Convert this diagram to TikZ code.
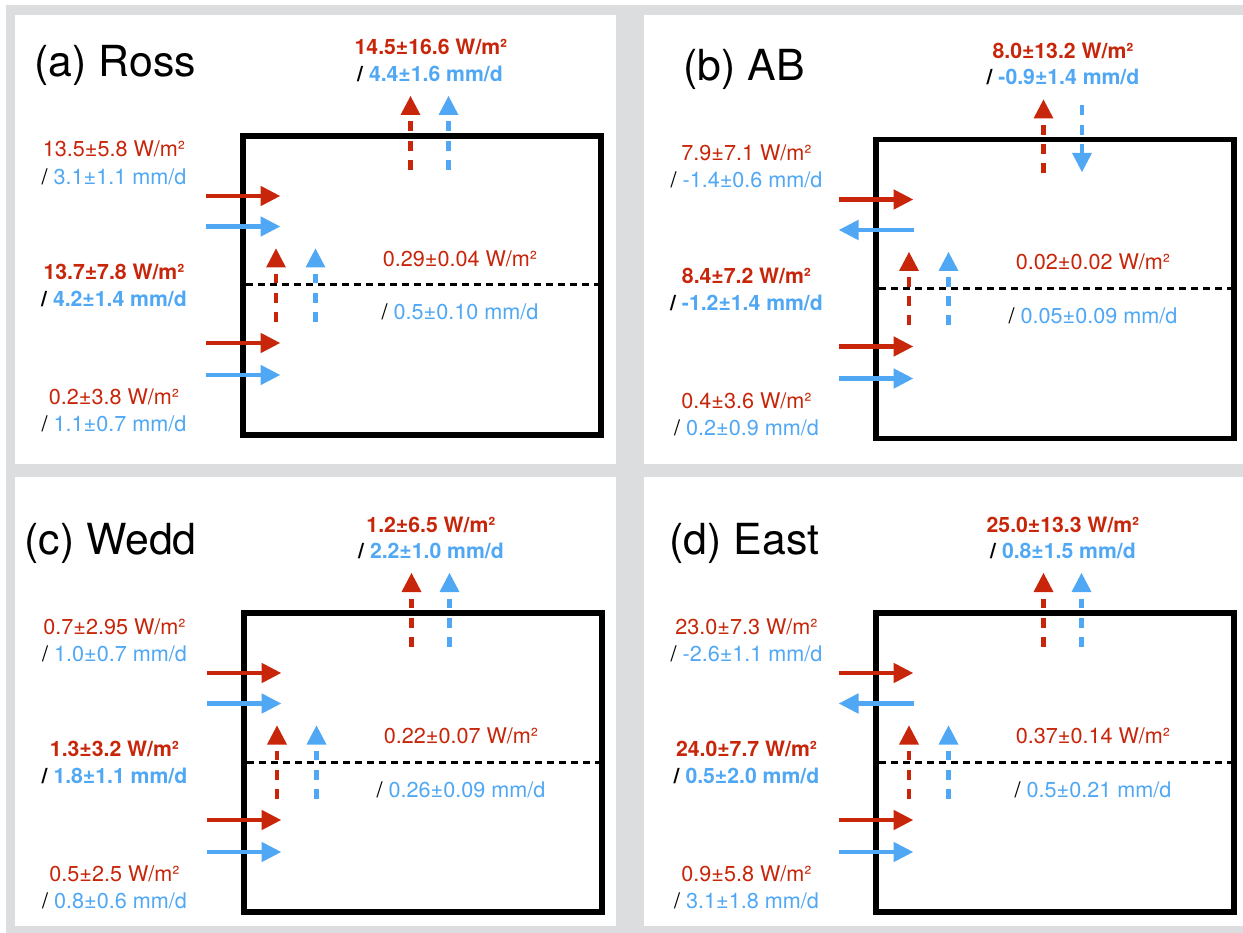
\documentclass[tikz,border=0pt]{standalone}
\usepackage{fontspec}
\setmainfont{TeX Gyre Heros}
\usetikzlibrary{arrows.meta}
\definecolor{fred}{RGB}{200,38,10}
\definecolor{fblue}{RGB}{80,168,245}
\definecolor{frame}{RGB}{220,221,223}
\tikzset{
  box/.style={draw=black, line width=5.5pt},
  layerline/.style={draw=black, line width=3pt, dash pattern=on 7pt off 5pt},
  harrow/.style={line width=4.8pt, -{Triangle[length=20pt,width=19pt]}},
  vshaft/.style={line width=4.8pt, dash pattern=on 10pt off 9.4pt},
  lbl/.style={font=\fontsize{21.6}{27}\selectfont, inner sep=0pt, anchor=base},
  blbl/.style={font=\fontsize{21.2}{27}\selectfont\bfseries, inner sep=0pt, anchor=base},
  ttl/.style={font=\fontsize{42.8}{48}\selectfont, anchor=base west, inner sep=0pt},
}
% #1 colour, #2 x, #3 tip y, #4 bottom y
\newcommand\uparr[4]{%
  \fill[#1] (#2-10,#3+19) -- (#2+10,#3+19) -- (#2,#3) -- cycle;
  \draw[vshaft,#1] (#2,#4) -- (#2,#3+25.5);
}
% #1 colour, #2 x, #3 tail y, #4 tip y
\newcommand\downarr[4]{%
  \fill[#1] (#2-10,#4-19) -- (#2+10,#4-19) -- (#2,#4) -- cycle;
  \draw[vshaft,#1] (#2,#3) -- (#2,#4-19);
}
\newcommand\panelcore{%
  \draw[box] (0,0) rectangle (358,299);
  \draw[layerline] (3,149) -- (355,149);
  \draw[harrow, fred] (-37,60) -- (37.5,60);
  \draw[harrow, fred] (-37,207) -- (37.5,207);
  \draw[harrow, fblue] (-37,239) -- (37.5,239);
  \uparr{fred}{33}{112.5}{186}
  \uparr{fblue}{72.5}{112.5}{186}
  \uparr{fred}{167.5}{-40}{34}
}
\begin{document}
\begin{tikzpicture}[x=1pt,y=-1pt]
\useasboundingbox (0,0) rectangle (1243,933);
\fill[white] (0,0) rectangle (1243,933);
\fill[frame] (6,5) rectangle (1243,933);
\fill[white] (15,15) rectangle (616,464);
\fill[white] (644,15) rectangle (1243,464);
\fill[white] (15,477) rectangle (616,926);
\fill[white] (644,477) rectangle (1243,926);

% ---------------- (a) Ross
\begin{scope}[shift={(243,136)}]
  \panelcore
  \draw[harrow, fblue] (-37,90.5) -- (37.5,90.5);
  \uparr{fblue}{205.5}{-40}{34}
  \node[ttl] (ta) at (-208.5,-59) {(a) Ross};
  \node[blbl, fred] (a-t1) at (188,-81) {14.5±16.6 W/m²};
  \node[blbl] (a-t2) at (187,-54.7) {/ \textcolor{fblue}{4.4±1.6 mm/d}};
  \node[lbl, fred] (a-l1) at (-129,21) {13.5±5.8 W/m²};
  \node[lbl] (a-l2) at (-129,48.3) {/ \textcolor{fblue}{3.1±1.1 mm/d}};
  \node[blbl, fred] (a-m1) at (-129,143.7) {13.7±7.8 W/m²};
  \node[blbl] (a-m2) at (-129,170.8) {/ \textcolor{fblue}{4.2±1.4 mm/d}};
  \node[lbl, fred] (a-b1) at (-129,268.7) {0.2±3.8 W/m²};
  \node[lbl] (a-b2) at (-129,295.8) {/ \textcolor{fblue}{1.1±0.7 mm/d}};
  \node[lbl, fred] (a-i1) at (217,130.5) {0.29±0.04 W/m²};
  \node[lbl] (a-i2) at (217,184) {/ \textcolor{fblue}{0.5±0.10 mm/d}};
\end{scope}

% ---------------- (b) AB
\begin{scope}[shift={(876,139.5)}]
  \panelcore
  \draw[harrow, fblue] (37.5,90.5) -- (-37.5,90.5);
  \downarr{fblue}{206}{-34}{32.5}
  \node[ttl] (tb) at (-192.6,-59) {(b) AB};
  \node[blbl, fred] (b-t1) at (187,-81) {8.0±13.2 W/m²};
  \node[blbl] (b-t2) at (187,-54.7) {/ \textcolor{fblue}{-0.9±1.4 mm/d}};
  \node[lbl, fred] (b-l1) at (-129.5,21) {7.9±7.1 W/m²};
  \node[lbl] (b-l2) at (-129.5,48.3) {/ \textcolor{fblue}{-1.4±0.6 mm/d}};
  \node[blbl, fred] (b-m1) at (-129.5,143.7) {8.4±7.2 W/m²};
  \node[blbl] (b-m2) at (-129.5,170.8) {/ \textcolor{fblue}{-1.2±1.4 mm/d}};
  \node[lbl, fred] (b-b1) at (-129.5,268.7) {0.4±3.6 W/m²};
  \node[lbl] (b-b2) at (-129.5,295.8) {/ \textcolor{fblue}{0.2±0.9 mm/d}};
  \node[lbl, fred] (b-i1) at (217,130.5) {0.02±0.02 W/m²};
  \node[lbl] (b-i2) at (217,184) {/ \textcolor{fblue}{0.05±0.09 mm/d}};
\end{scope}

% ---------------- (c) Wedd
\begin{scope}[shift={(244,613)}]
  \panelcore
  \draw[harrow, fblue] (-37,90.5) -- (37.5,90.5);
  \uparr{fblue}{205.5}{-40}{34}
  \node[ttl] (tc) at (-219.8,-59) {(c) Wedd};
  \node[blbl, fred] (c-t1) at (187,-81) {1.2±6.5 W/m²};
  \node[blbl] (c-t2) at (187,-54.7) {/ \textcolor{fblue}{2.2±1.0 mm/d}};
  \node[lbl, fred] (c-l1) at (-129.5,21) {0.7±2.95 W/m²};
  \node[lbl] (c-l2) at (-129.5,48.3) {/ \textcolor{fblue}{1.0±0.7 mm/d}};
  \node[blbl, fred] (c-m1) at (-129.5,143.7) {1.3±3.2 W/m²};
  \node[blbl] (c-m2) at (-129.5,170.8) {/ \textcolor{fblue}{1.8±1.1 mm/d}};
  \node[lbl, fred] (c-b1) at (-129.5,268.7) {0.5±2.5 W/m²};
  \node[lbl] (c-b2) at (-129.5,295.8) {/ \textcolor{fblue}{0.8±0.6 mm/d}};
  \node[lbl, fred] (c-i1) at (217,130.5) {0.22±0.07 W/m²};
  \node[lbl] (c-i2) at (217,184) {/ \textcolor{fblue}{0.26±0.09 mm/d}};
\end{scope}

% ---------------- (d) East
\begin{scope}[shift={(876,613)}]
  \panelcore
  \draw[harrow, fblue] (37.5,90.5) -- (-37.5,90.5);
  \uparr{fblue}{205.5}{-40}{34}
  \node[ttl] (td) at (-206.5,-59) {(d) East};
  \node[blbl, fred] (d-t1) at (187,-81) {25.0±13.3 W/m²};
  \node[blbl] (d-t2) at (187,-54.7) {/ \textcolor{fblue}{0.8±1.5 mm/d}};
  \node[lbl, fred] (d-l1) at (-129.5,21) {23.0±7.3 W/m²};
  \node[lbl] (d-l2) at (-129.5,48.3) {/ \textcolor{fblue}{-2.6±1.1 mm/d}};
  \node[blbl, fred] (d-m1) at (-129.5,143.7) {24.0±7.7 W/m²};
  \node[blbl] (d-m2) at (-129.5,170.8) {/ \textcolor{fblue}{0.5±2.0 mm/d}};
  \node[lbl, fred] (d-b1) at (-129.5,268.7) {0.9±5.8 W/m²};
  \node[lbl] (d-b2) at (-129.5,295.8) {/ \textcolor{fblue}{3.1±1.8 mm/d}};
  \node[lbl, fred] (d-i1) at (217,130.5) {0.37±0.14 W/m²};
  \node[lbl] (d-i2) at (217,184) {/ \textcolor{fblue}{0.5±0.21 mm/d}};
\end{scope}
\end{tikzpicture}
\end{document}
